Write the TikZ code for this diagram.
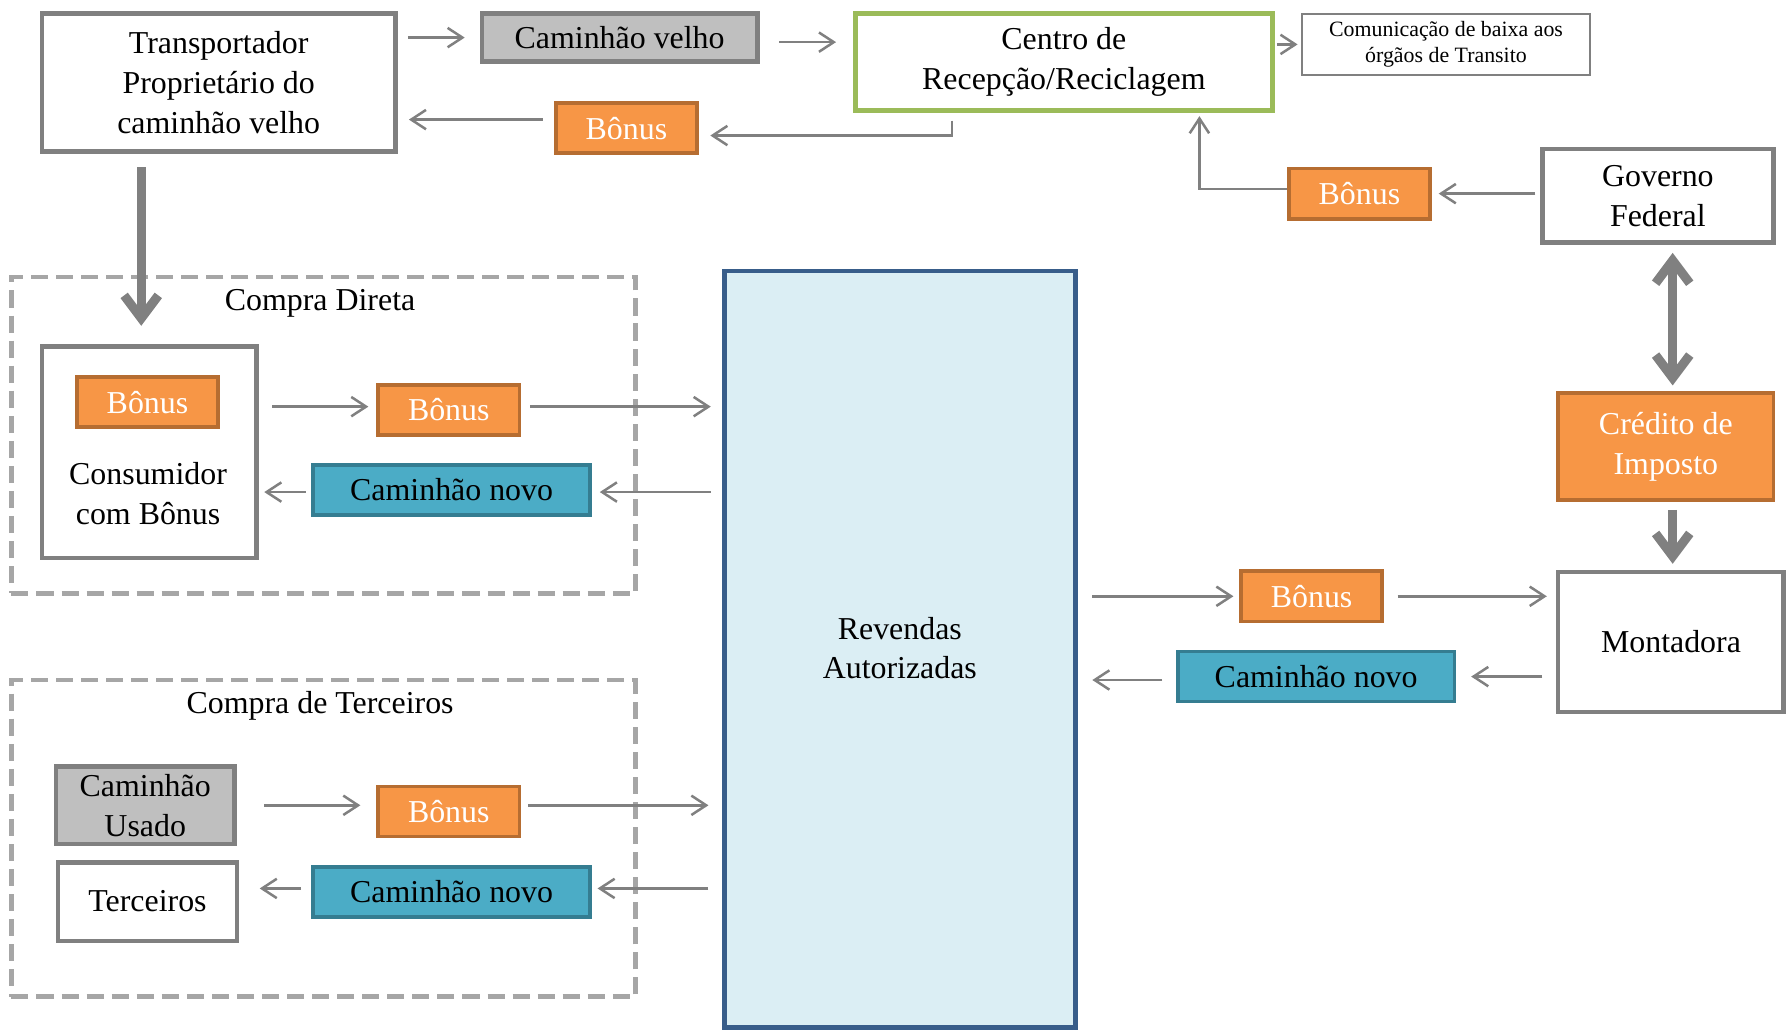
\documentclass[tikz,border=0pt]{standalone}
\usepackage{fontspec}
\setmainfont{Liberation Serif}
\usepackage{tikz}
\usetikzlibrary{arrows.meta}
\colorlet{lgray}{black!50}
\colorlet{dgray}{black!35}
\definecolor{orfill}{HTML}{F79646}
\definecolor{orline}{HTML}{B66D31}
\definecolor{tqfill}{HTML}{4BACC6}
\definecolor{tqline}{HTML}{357D91}
\definecolor{grline}{HTML}{9BBB59}
\definecolor{rvfill}{HTML}{DBEEF4}
\definecolor{rvline}{HTML}{385D8A}
\definecolor{usfill}{HTML}{BFBFBF}
\newcommand\txt{\fontsize{14}{17.5}\selectfont}
\tikzstyle{fhead}=[>/.tip={Straight Barb[length=6.5pt,width=8.5pt]}]
\tikzstyle{fl} =[line width=1.1pt,draw=lgray,fhead,->]
\tikzstyle{fg} =[line width=4pt,draw=lgray,>/.tip={Straight Barb[length=10pt,width=15pt]},->]
\tikzstyle{blk}=[draw=lgray,line width=2pt,fill=white]
\tikzstyle{bon}=[draw=orline,fill=orfill,line width=1.6pt,text=white,minimum width=62pt,minimum height=22pt]
\tikzstyle{novo}=[draw=tqline,fill=tqfill,line width=1.6pt,minimum width=121.5pt,minimum height=22pt]
\tikzstyle{grp}=[draw=dgray,line width=2pt,dash pattern=on 7.5pt off 3.5pt,minimum width=274pt,minimum height=139pt]

\begin{document}
\begin{tikzpicture}[x=0.5pt,y=-0.5pt,every node/.style={inner sep=0pt,align=center,font=\txt}]
	\useasboundingbox (0,0) rectangle (1568,904);
	\node[grp] (direta) at (284,382) {};
	\node[grp] (terc) at (284,736) {};
	\node (tdireta) at (281,266) {Compra Direta};
	\node (tterc) at (281,620) {Compra de Terceiros};
	\node[draw=rvline,fill=rvfill,line width=2pt,minimum width=154pt,minimum height=332pt] (rev) at (790,570) {};
	\node (trev) at (790,569) {Revendas\\Autorizadas};
	\node[blk,minimum width=155pt,minimum height=60.5pt] (trans) at (192,72.5) {Transportador\\Proprietário do\\caminhão velho};
	\node[blk,fill=usfill,minimum width=121pt,minimum height=21pt] (velho) at (544,33) {Caminhão velho};
	\node[draw=grline,line width=2pt,minimum width=183pt,minimum height=42.5pt] (centro) at (934,54.5) {Centro de\\Recepção/Reciclagem};
	\node[draw=lgray,line width=0.8pt,minimum width=126.5pt,minimum height=27pt,font=\fontsize{9.6}{11.5}\selectfont] (comun) at (1269.5,39) {Comunicação de baixa aos\\órgãos de Transito};
	\node[bon] (bonA) at (550,112.5) {Bônus};
	\node[blk,minimum width=101.5pt,minimum height=41pt] (gov) at (1455.5,172) {Governo\\Federal};
	\node[bon] (bonB) at (1193.5,170) {Bônus};
	\node[bon,minimum width=94.5pt,minimum height=47pt] (cred) at (1462.5,392) {Crédito de\\Imposto};
	\node[blk,minimum width=99pt,minimum height=61.5pt] (mont) at (1467,563.5) {Montadora};
	\node[bon] (bonC) at (1151.5,523.5) {Bônus};
	\node[novo] (novoC) at (1155.5,594) {Caminhão novo};
	\node[blk,minimum width=94pt,minimum height=93pt] (cons) at (131,397) {};
	\node[bon] (bonD) at (129.5,353) {Bônus};
	\node (tcons) at (130,433.5) {Consumidor\\com Bônus};
	\node[bon] (bonE) at (394,360) {Bônus};
	\node[novo] (novoE) at (396.5,430) {Caminhão novo};
	\node[blk,fill=usfill,minimum width=78.5pt,minimum height=34pt] (usado) at (127.5,707) {Caminhão\\Usado};
	\node[blk,minimum width=78.5pt,minimum height=34.5pt] (terceiros) at (129.5,791.5) {Terceiros};
	\node[bon] (bonF) at (394,712.5) {Bônus};
	\node[novo] (novoF) at (396.5,783) {Caminhão novo};

	\draw[fl,shorten <=4.5pt,shorten >=6.5pt] (trans.east |- velho) -- (velho.west);
	\draw[fl,shorten <=8.5pt,shorten >=7.5pt] ([yshift=-2pt]velho.east) -- ([yshift=-2pt]velho.east -| centro.west);
	\draw[fl,shorten <=1pt,shorten >=1.5pt] (centro.east |- comun) -- (comun.west);
	\draw[fl,shorten >=5pt] ([xshift=-49pt,yshift=-3.5pt]centro.south) |- ([yshift=-3.25pt]bonA.east);
	\draw[fl,shorten <=5pt,shorten >=5pt] ([yshift=3.75pt]bonA.west) -- ([yshift=3.75pt]bonA.west -| trans.east);
	\draw[fl,shorten <=2pt,shorten >=3pt] (gov.west |- bonB) -- (bonB.east);
	\draw[fl,shorten >=1.5pt] ([yshift=2pt]bonB.west) -| ([xshift=59.5pt]centro.south);
	\draw[fg,<->,shorten <=3.5pt,shorten >=2.5pt] ([xshift=3pt]cred.north |- gov.south) -- ([xshift=3pt]cred.north);
	\draw[fg,shorten <=3.5pt,shorten >=2.5pt] ([xshift=3pt]cred.south) -- ([xshift=3pt]cred.south |- mont.north);
	\draw[fl,shorten <=6.5pt,shorten >=2.5pt] (rev.east |- bonC) -- (bonC.west);
	\draw[fl,shorten <=6pt,shorten >=4pt] (bonC.east) -- (bonC.east -| mont.west);
	\draw[fl,shorten <=6pt,shorten >=6.5pt] (mont.west |- novoC) -- (novoC.east);
	\draw[fl,shorten <=6pt,shorten >=6.5pt] ([yshift=-1.5pt]novoC.west) -- ([yshift=-1.5pt]novoC.west -| rev.east);
	\draw[fg,shorten <=6pt,shorten >=8pt] ([xshift=-3.5pt]cons.north |- trans.south) -- ([xshift=-3.5pt]cons.north);
	\draw[fl,shorten <=6pt,shorten >=3.5pt] ([yshift=1.5pt]cons.east |- bonE) -- ([yshift=1.5pt]bonE.west);
	\draw[fl,shorten <=4pt,shorten >=5pt] ([yshift=1.5pt]bonE.east) -- ([yshift=1.5pt]bonE.east -| rev.west);
	\draw[fl,shorten <=5pt,shorten >=3.5pt] ([yshift=-1pt]rev.west |- novoE) -- ([yshift=-1pt]novoE.east);
	\draw[fl,shorten <=2.5pt,shorten >=2.5pt] ([yshift=-1pt]novoE.west) -- ([yshift=-1pt]novoE.west -| cons.east);
	\draw[fl,shorten <=12pt,shorten >=7pt] (usado.east) -- (usado.east -| bonF.west);
	\draw[fl,shorten <=3pt,shorten >=6pt] ([yshift=2.75pt]bonF.east) -- ([yshift=2.75pt]bonF.east -| rev.west);
	\draw[fl,shorten <=6pt,shorten >=2.5pt] ([yshift=1.5pt]rev.west |- novoF) -- ([yshift=1.5pt]novoF.east);
	\draw[fl,shorten <=4.5pt,shorten >=9pt] ([yshift=1.5pt]novoF.west) -- ([yshift=1.5pt]novoF.west -| terceiros.east);
\end{tikzpicture}
\end{document}
